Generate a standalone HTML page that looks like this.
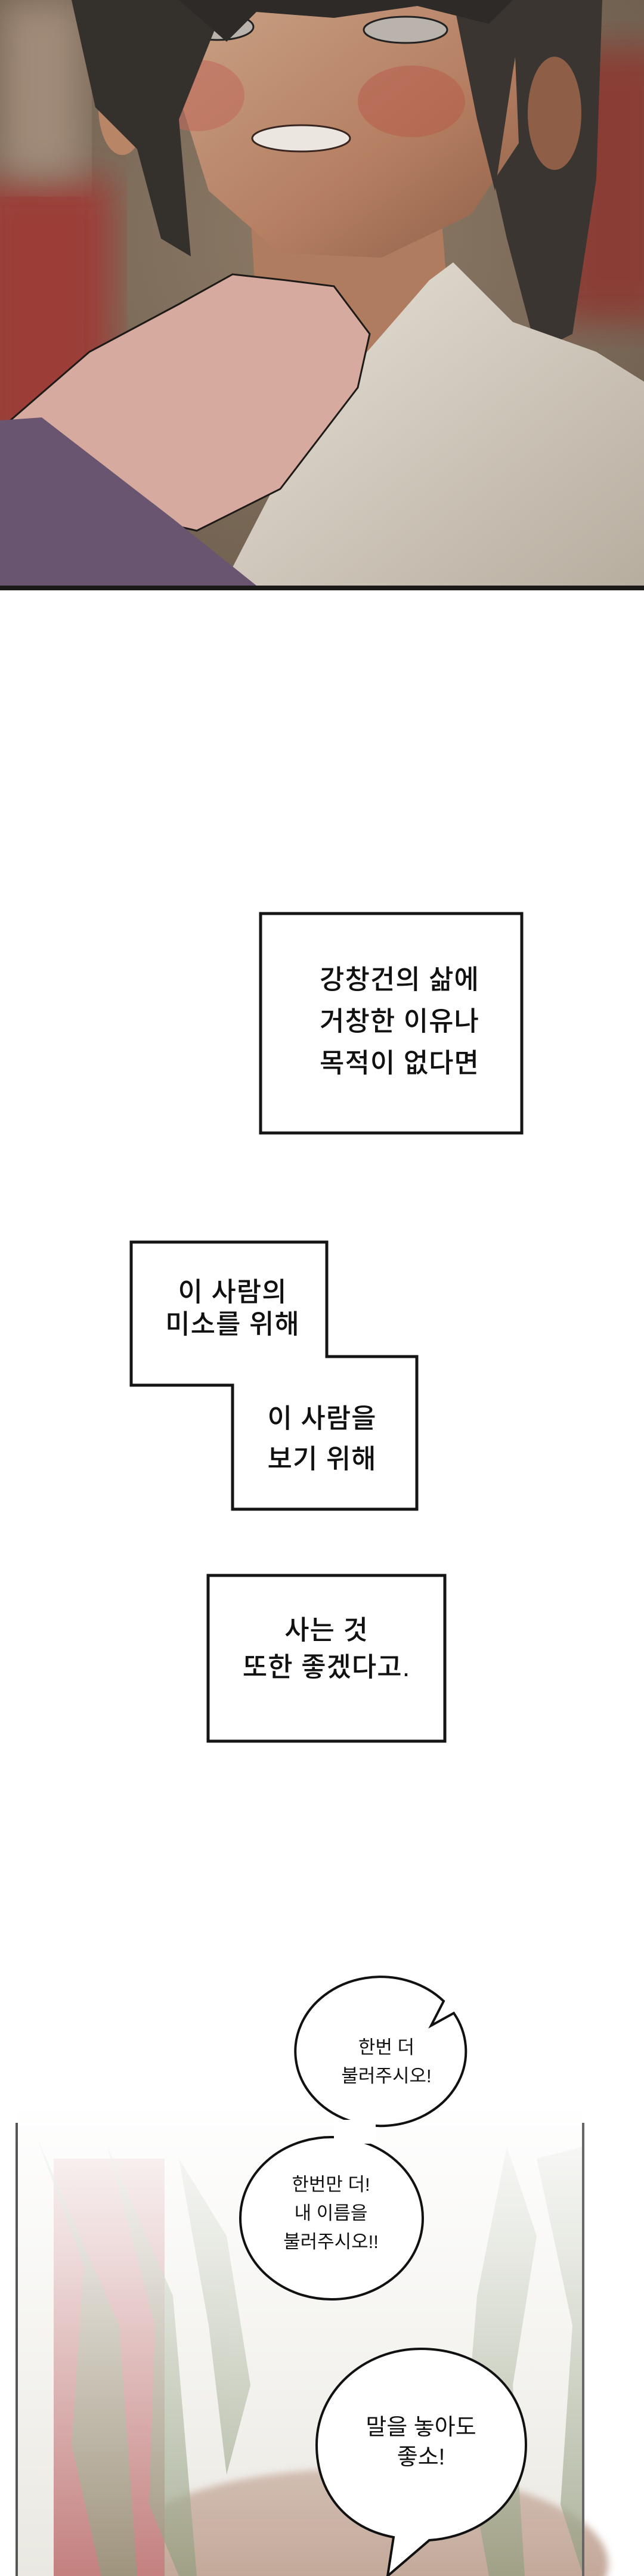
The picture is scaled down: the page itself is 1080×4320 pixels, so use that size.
<!DOCTYPE html>
<html><head><meta charset="utf-8">
<style>
html,body{margin:0;padding:0;background:#fff;}
body{width:1080px;height:4320px;position:relative;overflow:hidden;font-family:"Liberation Sans","Noto Sans CJK KR","NanumGothic",sans-serif;color:#111;}
.abs{position:absolute;}
.t{position:absolute;white-space:nowrap;text-align:center;line-height:1;}
.cap{font-weight:500;letter-spacing:1px;}
</style></head><body>

<!-- Top art panel -->
<svg class="abs" style="left:0;top:0" width="1080" height="990" viewBox="0 0 1080 990">
<defs>
<radialGradient id="bg" cx="0.5" cy="0.4" r="0.8"><stop offset="0" stop-color="#8c7a66"/><stop offset="1" stop-color="#6a5a4a"/></radialGradient>
<linearGradient id="face" x1="0" y1="0" x2="1" y2="1"><stop offset="0" stop-color="#c9a285"/><stop offset="0.6" stop-color="#b57e62"/><stop offset="1" stop-color="#8d6047"/></linearGradient>
<linearGradient id="shirt" x1="0" y1="0" x2="1" y2="1"><stop offset="0" stop-color="#e8e2d8"/><stop offset="1" stop-color="#b7ad9f"/></linearGradient>
<filter id="bl"><feGaussianBlur stdDeviation="30"/></filter>
</defs>
<rect width="1080" height="990" fill="url(#bg)"/>
<rect x="-40" y="300" width="230" height="540" fill="#9c3e38" filter="url(#bl)"/>
<rect x="930" y="80" width="200" height="460" fill="#8a3c34" filter="url(#bl)"/>
<rect x="0" y="0" width="140" height="300" fill="#a08a78" filter="url(#bl)"/>
<polygon points="760,0 1010,0 1000,300 960,560 900,590 850,400" fill="#3a3531"/>
<ellipse cx="205" cy="180" rx="40" ry="80" fill="#b88666"/>
<ellipse cx="930" cy="190" rx="45" ry="95" fill="#8f5e46"/>
<polygon points="420,360 740,360 760,610 600,640 430,520" fill="#b07c60"/>
<polygon points="290,0 860,0 870,240 790,360 640,432 470,425 350,320 300,160" fill="url(#face)"/>
<ellipse cx="330" cy="160" rx="80" ry="60" fill="#c0685a" opacity="0.55"/>
<ellipse cx="690" cy="170" rx="90" ry="60" fill="#b85848" opacity="0.5"/>
<ellipse cx="365" cy="45" rx="60" ry="22" fill="#b9b3ab" stroke="#222" stroke-width="3"/>
<ellipse cx="680" cy="50" rx="70" ry="22" fill="#b9b3ab" stroke="#222" stroke-width="3"/>
<ellipse cx="505" cy="232" rx="82" ry="22" fill="#ece6e0" stroke="#3a2620" stroke-width="3"/>
<polygon points="120,0 380,0 300,200 320,430 270,400 230,250 160,180" fill="#34302c"/>
<polygon points="760,0 880,0 860,120 830,320 800,200" fill="#3a3531"/>
<polygon points="300,0 860,0 820,40 700,10 560,30 430,20 380,70" fill="#2e2a27"/>
<polygon points="370,990 520,700 720,470 760,440 860,540 1000,590 1080,640 1080,990" fill="url(#shirt)"/>
<polygon points="0,720 150,590 300,510 390,460 480,470 560,480 620,560 600,650 470,820 330,890 200,860 70,740" fill="#d6aa9e" stroke="#1e1a18" stroke-width="3"/>
<polygon points="0,705 70,700 290,870 440,990 0,990" fill="#6a5570"/>
<rect x="0" y="982" width="1080" height="8" fill="#1c1a18"/>
</svg>

<!-- Caption boxes -->
<svg class="abs" style="left:0;top:1500px" width="1080" height="1450" viewBox="0 1500 1080 1450">
<g fill="#fff" stroke="#151515" stroke-width="5" stroke-linejoin="miter">
<rect x="437" y="1532" width="438" height="368"/>
<polygon points="220,2083 548,2083 548,2275 699,2275 699,2531 390,2531 390,2323 220,2323"/>
<rect x="349" y="2642" width="397" height="278"/>
</g>
</svg>
<div class="t cap" style="left:470px;width:400px;top:1608px;font-size:45px;line-height:70px;">강창건의 삶에<br>거창한 이유나<br>목적이 없다면</div>
<div class="t cap" style="left:250px;width:280px;top:2140px;font-size:45px;line-height:54px;">이 사람의<br>미소를 위해</div>
<div class="t cap" style="left:410px;width:260px;top:2345px;font-size:45px;line-height:68px;">이 사람을<br>보기 위해</div>
<div class="t cap" style="left:349px;width:397px;top:2703px;font-size:45px;line-height:62px;">사는 것<br>또한 좋겠다고.</div>

<!-- Bottom scene -->
<svg class="abs" style="left:0;top:3250px" width="1080" height="1070" viewBox="0 3250 1080 1070">
<defs>
<linearGradient id="fade" x1="0" y1="0" x2="0" y2="1"><stop offset="0" stop-color="#fff" stop-opacity="1"/><stop offset="0.35" stop-color="#fff" stop-opacity="0.75"/><stop offset="1" stop-color="#fff" stop-opacity="0.15"/></linearGradient>
<filter id="b2"><feGaussianBlur stdDeviation="6"/></filter>
</defs>
<rect x="28" y="3540" width="950" height="780" fill="#e6e4dc"/>
<ellipse cx="600" cy="4300" rx="420" ry="160" fill="#b99a88" filter="url(#b2)"/>
<rect x="90" y="3620" width="186" height="700" fill="#b86a68"/>
<g fill="#7d8b66" opacity="0.7">
<polygon points="60,3580 140,3800 120,4100 170,4320 230,4320 200,3900"/>
<polygon points="180,3600 260,3900 250,4200 300,4320 330,4320 290,3850"/>
<polygon points="300,3620 350,3900 380,4150 420,4000 380,3750"/>
<polygon points="850,3600 800,3850 780,4100 820,4320 880,4320 860,4000 900,3750"/>
<polygon points="900,3620 960,3900 940,4200 978,4320 978,3600"/>
</g>
<rect x="0" y="3500" width="1080" height="820" fill="url(#fade)"/>
<rect x="26" y="3560" width="4" height="760" fill="#555"/>
<rect x="976" y="3560" width="4" height="760" fill="#666"/>
<g fill="#fff" stroke="#111" stroke-width="4" stroke-linejoin="miter">
<ellipse cx="556" cy="3720" rx="153" ry="136"/>
<path d="M744,3356 L723,3397 L761,3376 A143,125 0 1 1 744,3356 Z"/>
<path d="M706,3939 C800,3939 882,4000 882,4100 C882,4200 800,4255 720,4260 L650,4320 L660,4255 C580,4240 531,4180 531,4100 C531,4010 610,3939 706,3939 Z"/>
</g>
<rect x="560" y="3555" width="70" height="40" fill="#fff"/>
</svg>
<div class="t" style="left:548px;width:200px;top:3410px;font-size:31px;line-height:48px;">한번 더<br>불러주시오!</div>
<div class="t" style="left:455px;width:200px;top:3640px;font-size:31px;line-height:48px;">한번만 더!<br>내 이름을<br>불러주시오!!</div>
<div class="t" style="left:580px;width:252px;top:4046px;font-size:38px;line-height:50px;">말을 놓아도<br>좋소!</div>

</body></html>
